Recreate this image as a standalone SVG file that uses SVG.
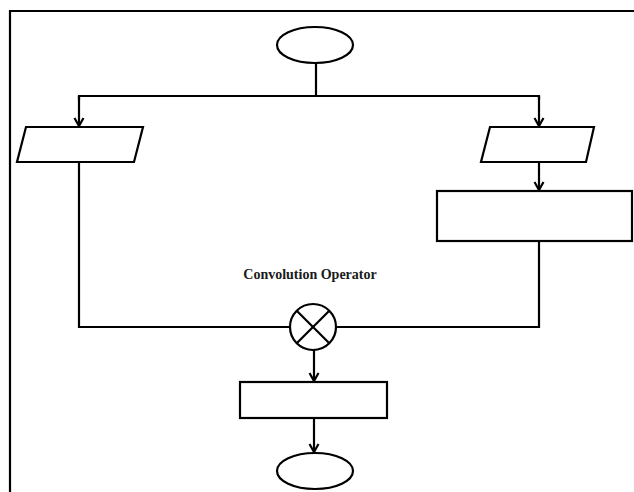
<svg xmlns="http://www.w3.org/2000/svg" width="634" height="492" viewBox="0 0 634 492">
  <style>
    .shape { fill: #ffffff; stroke: #000000; stroke-width: 2.2; }
    .line { fill: none; stroke: #000000; stroke-width: 2.2; }
    .label { font-family: "Liberation Serif", "Times New Roman", serif; font-weight: bold; font-size: 14px; fill: #1a1a1a; }
  </style>
  <defs>
    <marker id="arrow" markerWidth="12" markerHeight="12" refX="10" refY="6" orient="auto" markerUnits="userSpaceOnUse" viewBox="0 0 12 12">
      <polyline points="2,1.5 10,6 2,10.5" fill="none" stroke="#000" stroke-width="2.2"/>
    </marker>
  </defs>
  <rect width="634" height="492" fill="#ffffff"/>
  <g id="frame">
    <polyline class="line" points="10,492 10,11 634,11"/>
  </g>
  <g id="start">
    <ellipse class="shape" cx="315" cy="45" rx="38" ry="18"/>
  </g>
  <g id="input-left">
    <polygon class="shape" points="26,127 143,127 134,162 17,162"/>
  </g>
  <g id="input-right">
    <polygon class="shape" points="490,127 594,127 586,162 481,162"/>
  </g>
  <g id="process-right">
    <rect class="shape" x="437" y="191" width="195" height="50"/>
  </g>
  <g id="convolution">
    <circle class="shape" cx="313" cy="327" r="23"/>
    <line class="line" x1="296.7" y1="310.7" x2="329.3" y2="343.3"/>
    <line class="line" x1="329.3" y1="310.7" x2="296.7" y2="343.3"/>
    <text class="label" x="310" y="279" text-anchor="middle">Convolution Operator</text>
  </g>
  <g id="process-bottom">
    <rect class="shape" x="240" y="382" width="147" height="36"/>
  </g>
  <g id="end">
    <ellipse class="shape" cx="315" cy="471" rx="38" ry="18"/>
  </g>
  <g id="connectors">
    <line class="line" x1="316" y1="63" x2="316" y2="96"/>
    <polyline class="line" points="79,100 79,96 539,96 539,100"/>
    <line class="line" x1="79" y1="96" x2="79" y2="126" marker-end="url(#arrow)"/>
    <line class="line" x1="539" y1="96" x2="539" y2="126" marker-end="url(#arrow)"/>
    <line class="line" x1="539" y1="163" x2="539" y2="190" marker-end="url(#arrow)"/>
    <polyline class="line" points="79,163 79,327 290,327"/>
    <polyline class="line" points="539,242 539,327 336,327"/>
    <line class="line" x1="314" y1="350" x2="314" y2="381" marker-end="url(#arrow)"/>
    <line class="line" x1="314" y1="419" x2="314" y2="452" marker-end="url(#arrow)"/>
  </g>
</svg>
